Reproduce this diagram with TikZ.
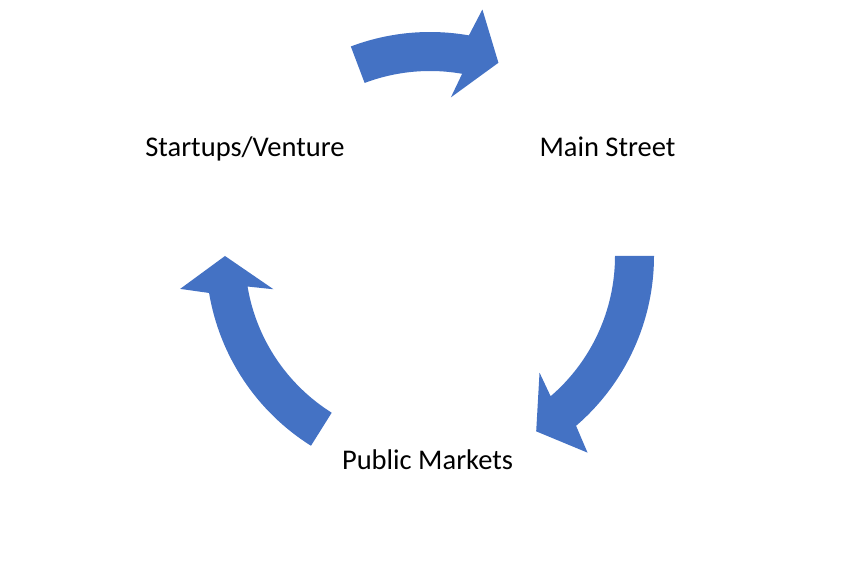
\documentclass[tikz,border=0pt]{standalone}
\usepackage{fontspec}
\setmainfont{Carlito}
\usepackage{xcolor}
\usepackage{tikz}
\definecolor{cycleBlue}{HTML}{4472C4}

\tikzset{stagelabel/.style={anchor=base,inner sep=0pt,font=\fontsize{28.5}{34}\selectfont}}

% block arc: tail angle, head base angle, tip angle
\newcommand{\cyclearrow}[3]{%
  \fill[cycleBlue] (#1:224) arc[start angle=#1,end angle=#2,radius=224]
    -- ({#2-2}:252) -- (#3:205) -- ({#2+2.5}:160) -- (#2:185)
    arc[start angle=#2,end angle=#1,radius=185] -- cycle;}

\begin{document}
\begin{tikzpicture}[x=1pt,y=1pt]
  \useasboundingbox (0,0) rectangle (854,568);
  \node[stagelabel] (startups) at (245,411.3) {Startups/Venture};
  \node[stagelabel] (mainst) at (607.5,411.3) {Main Street};
  \node[stagelabel] (public) at (427.5,98.7) {Public Markets};
  \begin{scope}[shift={(430,312)}]
    \cyclearrow{110.7}{80}{70.5}
    \cyclearrow{0}{-49.3}{-58.8}
    \cyclearrow{237.9}{189.5}{180}
  \end{scope}
\end{tikzpicture}
\end{document}
